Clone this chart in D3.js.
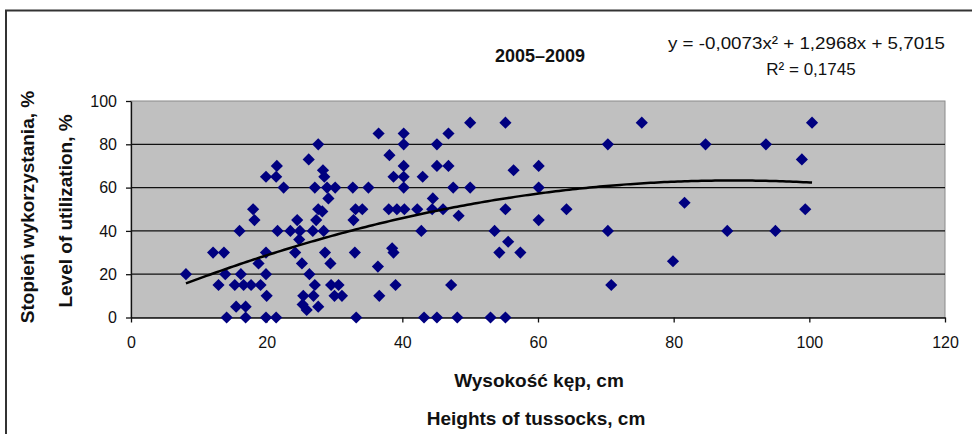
<!DOCTYPE html>
<html>
<head>
<meta charset="utf-8">
<title>2005–2009</title>
<script src="https://d3js.org/d3.v7.min.js"></script>
<style>
body { margin: 0; background: #fff; }
text { font-family: 'Liberation Sans', Arial, sans-serif; fill: #111; }
</style>
</head>
<body>
<div id="chart"></div>
<script>
// tussock height (cm) and level of utilization (%)
var heights = [8.1, 12.1, 13.7, 12.9, 13.9, 14.1, 15.5, 15.3, 16, 16.2, 16.6, 16.9, 16.9, 17.7, 18, 18.2,
  18.8, 19.1, 19.9, 19.9, 20, 19.9, 19.9, 21.5, 21.4, 22.5, 21.6, 21.4,
  23.5, 24.5, 24.9, 24.2, 25.2, 26.3, 27.1, 25.4, 26.9, 25.3, 25.9, 27.6, 26.8, 27.3, 27.6, 28.2,
  29.1, 28.4, 28.6, 29.4, 29.5, 30.6, 30, 31.1, 27.1, 26.2, 27.6, 28.3, 28.5, 28.9, 30.1, 32.7,
  35, 33.1, 34.1, 32.8, 33, 33.2, 36.5, 40.2, 40.2, 38.1, 38.7, 40.2, 40.2, 40.2, 43, 45.1,
  45.1, 44.5, 44.4, 42.2, 38, 39.2, 40.3, 42.8, 38.5, 38.7, 36.4, 39, 36.6, 43.2, 45.1, 24.8,
  46, 46.8, 46.8, 50, 55.2, 47.5, 50, 48.3, 47.2, 48.1, 53, 55.2, 56.4, 60.1, 60.1, 55.2,
  60.1, 64.2, 53.6, 55.6, 54.3, 57.4,
  75.3, 70.3, 84.7, 93.6, 81.6, 70.3, 87.9, 95, 79.9, 70.8,
  100.4, 98.9, 99.4];
var utilization = [20, 30, 30, 15, 20, 0, 5, 15, 40, 20, 15, 5, 0, 15, 50, 45,
  25, 15, 30, 20, 10, 0, 65, 70, 65, 60, 40, 0,
  40, 45, 40, 30, 25, 20, 15, 10, 10, 6, 3.5, 5, 40, 45, 50, 49,
  55, 40, 30, 25, 15, 15, 10, 10, 60, 73, 80, 68, 65, 60, 60, 60,
  60, 50, 50, 45, 30, 0, 85, 85, 80, 75, 65, 70, 65, 60, 65, 80,
  70, 55, 50, 50, 50, 50, 50, 40, 32, 30, 23.5, 15, 10, 0, 0, 36,
  50, 85, 70, 90, 90, 60, 60, 47, 15, 0, 0, 0, 68, 70, 60, 50,
  45, 50, 40, 35, 30, 30,
  90, 80, 80, 80, 53, 40, 40, 40, 26, 15,
  90, 73, 50];
var xTicks = [0, 20, 40, 60, 80, 100, 120];
var yTicks = [0, 20, 40, 60, 80, 100];
var trendCoef = [-0.0073, 1.2968, 5.7015]; // y = a*x^2 + b*x + c
var chartTitle = "2005–2009";
var equationText = "y = -0,0073x² + 1,2968x + 5,7015";
var r2Text = "R² = 0,1745";

var W = 972, H = 434;
var plot = {left: 131, right: 945, top: 101, bottom: 317.5};

var svg = d3.select("#chart").append("svg")
  .attr("width", W).attr("height", H);

// outer chart frame
svg.append("rect")
  .attr("x", 6).attr("y", 10.5)
  .attr("width", W + 20).attr("height", H + 20)
  .style("fill", "#fff").style("stroke", "#333").style("stroke-width", 2);

var x = d3.scaleLinear().domain([0, 120]).range([plot.left, plot.right]);
var y = d3.scaleLinear().domain([0, 100]).range([plot.bottom, plot.top]);

// plot area
svg.append("rect")
  .attr("x", plot.left).attr("y", plot.top)
  .attr("width", plot.right - plot.left).attr("height", plot.bottom - plot.top)
  .style("fill", "#c0c0c0").style("stroke", "#8a8a8a").style("stroke-width", 1);

// gridlines
svg.selectAll(".grid")
  .data(yTicks.filter(function(d) { return d > 0 && d < 100; }))
  .enter().append("line")
  .attr("x1", plot.left).attr("x2", plot.right)
  .attr("y1", function(d) { return y(d); }).attr("y2", function(d) { return y(d); })
  .style("stroke", "#111").style("stroke-width", 1.2);

// axes
var yAxis = svg.append("g")
  .attr("transform", "translate(" + plot.left + ",0)")
  .call(d3.axisLeft(y).tickValues(yTicks).tickSize(5).tickPadding(9).tickSizeOuter(0));
var xAxis = svg.append("g")
  .attr("transform", "translate(0," + plot.bottom + ")")
  .call(d3.axisBottom(x).tickValues(xTicks).tickSize(5).tickPadding(14).tickSizeOuter(0));
[xAxis, yAxis].forEach(function(g) {
  g.selectAll("path, line").style("stroke", "#111").style("stroke-width", 1.3);
  g.selectAll("text").style("font-size", "16px").style("fill", "#111")
    .style("font-family", "'Liberation Sans', Arial, sans-serif");
});

// points
var pts = heights.map(function(h, i) { return [h, utilization[i]]; });
svg.selectAll(".pt")
  .data(pts)
  .enter().append("path")
  .attr("class", "pt")
  .attr("d", d3.symbol().type(d3.symbolSquare).size(74))
  .attr("transform", function(d) { return "translate(" + x(d[0]) + "," + y(d[1]) + ") rotate(45)"; })
  .style("fill", "#000080");

// polynomial trend line from the shown equation
var xMin = d3.min(heights), xMax = d3.max(heights);
var trend = d3.range(xMin, xMax, 0.5).concat([xMax]).map(function(v) {
  return [v, trendCoef[0] * v * v + trendCoef[1] * v + trendCoef[2]];
});
svg.append("path")
  .datum(trend)
  .attr("d", d3.line().x(function(d) { return x(d[0]); }).y(function(d) { return y(d[1]); }))
  .style("fill", "none").style("stroke", "#000").style("stroke-width", 2.5);

// titles
svg.append("text")
  .attr("x", 540).attr("y", 62)
  .attr("text-anchor", "middle")
  .style("font-size", "18px").style("font-weight", "bold")
  .text(chartTitle);

svg.append("text")
  .attr("x", 668).attr("y", 49)
  .attr("textLength", 277).attr("lengthAdjust", "spacingAndGlyphs")
  .style("font-size", "17px")
  .text(equationText);
svg.append("text")
  .attr("x", 811).attr("y", 75)
  .attr("text-anchor", "middle")
  .style("font-size", "17px")
  .text(r2Text);

svg.append("text")
  .attr("x", 539).attr("y", 387)
  .attr("text-anchor", "middle")
  .style("font-size", "19px").style("font-weight", "bold")
  .text("Wysokość kęp, cm");
svg.append("text")
  .attr("x", 536).attr("y", 425)
  .attr("text-anchor", "middle")
  .style("font-size", "19px").style("font-weight", "bold")
  .text("Heights of tussocks, cm");

svg.append("text")
  .attr("transform", "translate(34,207) rotate(-90)")
  .attr("text-anchor", "middle")
  .style("font-size", "19px").style("font-weight", "bold")
  .text("Stopień wykorzystania, %");
svg.append("text")
  .attr("transform", "translate(72,211) rotate(-90)")
  .attr("text-anchor", "middle")
  .style("font-size", "19px").style("font-weight", "bold")
  .text("Level of utilization, %");
</script>
</body>
</html>
